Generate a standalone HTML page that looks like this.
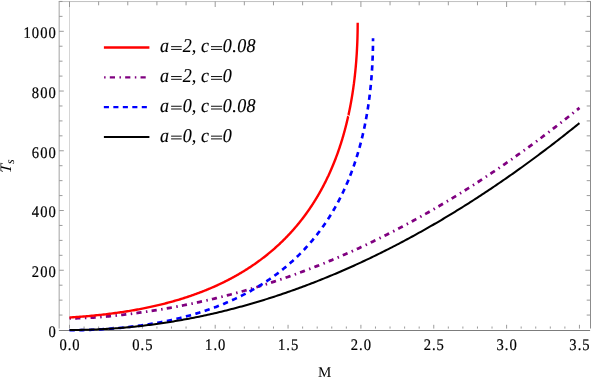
<!DOCTYPE html>
<html><head><meta charset="utf-8"><title>plot</title>
<style>
html,body{margin:0;padding:0;background:#fff;}
body{width:591px;height:379px;overflow:hidden;}
svg{display:block;will-change:transform;}
text{font-family:"Liberation Serif",serif;fill:#000;text-rendering:geometricPrecision;}
.tl{font-size:16.2px;letter-spacing:1.111px;stroke:#000;stroke-width:0.2px;}
.lg{font-size:19.6px;font-style:italic;stroke:#000;stroke-width:0.15px;}
</style></head><body>
<svg width="591" height="379" viewBox="0 0 591 379">
<rect width="591" height="379" fill="#fff"/>
<line x1="69.5" y1="1.55" x2="69.5" y2="328.6" stroke="#d0d0d0" stroke-width="0.9"/>
<line x1="59.2" y1="1.15" x2="59.2" y2="328.6" stroke="#b8b8b8" stroke-width="1.3"/>
<line x1="58.7" y1="1.55" x2="591.0" y2="1.55" stroke="#b0b0b0" stroke-width="0.8"/>
<line x1="590.6" y1="1.15" x2="590.6" y2="328.6" stroke="#8c8c8c" stroke-width="1.2"/>
<line x1="58.900000000000006" y1="330.45" x2="590.1" y2="330.45" stroke="#7c7c7c" stroke-width="1.15"/>
<line x1="69.50" y1="328.60" x2="69.50" y2="324.80" stroke="#8e8e8e" stroke-width="0.9"/>
<line x1="84.07" y1="328.60" x2="84.07" y2="326.50" stroke="#8e8e8e" stroke-width="0.9"/>
<line x1="98.64" y1="328.60" x2="98.64" y2="326.50" stroke="#8e8e8e" stroke-width="0.9"/>
<line x1="113.21" y1="328.60" x2="113.21" y2="326.50" stroke="#8e8e8e" stroke-width="0.9"/>
<line x1="127.78" y1="328.60" x2="127.78" y2="326.50" stroke="#8e8e8e" stroke-width="0.9"/>
<line x1="142.35" y1="328.60" x2="142.35" y2="324.80" stroke="#8e8e8e" stroke-width="0.9"/>
<line x1="156.92" y1="328.60" x2="156.92" y2="326.50" stroke="#8e8e8e" stroke-width="0.9"/>
<line x1="171.49" y1="328.60" x2="171.49" y2="326.50" stroke="#8e8e8e" stroke-width="0.9"/>
<line x1="186.06" y1="328.60" x2="186.06" y2="326.50" stroke="#8e8e8e" stroke-width="0.9"/>
<line x1="200.63" y1="328.60" x2="200.63" y2="326.50" stroke="#8e8e8e" stroke-width="0.9"/>
<line x1="215.20" y1="328.60" x2="215.20" y2="324.80" stroke="#8e8e8e" stroke-width="0.9"/>
<line x1="229.77" y1="328.60" x2="229.77" y2="326.50" stroke="#8e8e8e" stroke-width="0.9"/>
<line x1="244.34" y1="328.60" x2="244.34" y2="326.50" stroke="#8e8e8e" stroke-width="0.9"/>
<line x1="258.91" y1="328.60" x2="258.91" y2="326.50" stroke="#8e8e8e" stroke-width="0.9"/>
<line x1="273.48" y1="328.60" x2="273.48" y2="326.50" stroke="#8e8e8e" stroke-width="0.9"/>
<line x1="288.05" y1="328.60" x2="288.05" y2="324.80" stroke="#8e8e8e" stroke-width="0.9"/>
<line x1="302.62" y1="328.60" x2="302.62" y2="326.50" stroke="#8e8e8e" stroke-width="0.9"/>
<line x1="317.19" y1="328.60" x2="317.19" y2="326.50" stroke="#8e8e8e" stroke-width="0.9"/>
<line x1="331.76" y1="328.60" x2="331.76" y2="326.50" stroke="#8e8e8e" stroke-width="0.9"/>
<line x1="346.33" y1="328.60" x2="346.33" y2="326.50" stroke="#8e8e8e" stroke-width="0.9"/>
<line x1="360.90" y1="328.60" x2="360.90" y2="324.80" stroke="#8e8e8e" stroke-width="0.9"/>
<line x1="375.47" y1="328.60" x2="375.47" y2="326.50" stroke="#8e8e8e" stroke-width="0.9"/>
<line x1="390.04" y1="328.60" x2="390.04" y2="326.50" stroke="#8e8e8e" stroke-width="0.9"/>
<line x1="404.61" y1="328.60" x2="404.61" y2="326.50" stroke="#8e8e8e" stroke-width="0.9"/>
<line x1="419.18" y1="328.60" x2="419.18" y2="326.50" stroke="#8e8e8e" stroke-width="0.9"/>
<line x1="433.75" y1="328.60" x2="433.75" y2="324.80" stroke="#8e8e8e" stroke-width="0.9"/>
<line x1="448.32" y1="328.60" x2="448.32" y2="326.50" stroke="#8e8e8e" stroke-width="0.9"/>
<line x1="462.89" y1="328.60" x2="462.89" y2="326.50" stroke="#8e8e8e" stroke-width="0.9"/>
<line x1="477.46" y1="328.60" x2="477.46" y2="326.50" stroke="#8e8e8e" stroke-width="0.9"/>
<line x1="492.03" y1="328.60" x2="492.03" y2="326.50" stroke="#8e8e8e" stroke-width="0.9"/>
<line x1="506.60" y1="328.60" x2="506.60" y2="324.80" stroke="#8e8e8e" stroke-width="0.9"/>
<line x1="521.17" y1="328.60" x2="521.17" y2="326.50" stroke="#8e8e8e" stroke-width="0.9"/>
<line x1="535.74" y1="328.60" x2="535.74" y2="326.50" stroke="#8e8e8e" stroke-width="0.9"/>
<line x1="550.31" y1="328.60" x2="550.31" y2="326.50" stroke="#8e8e8e" stroke-width="0.9"/>
<line x1="564.88" y1="328.60" x2="564.88" y2="326.50" stroke="#8e8e8e" stroke-width="0.9"/>
<line x1="579.45" y1="328.60" x2="579.45" y2="324.80" stroke="#8e8e8e" stroke-width="0.9"/>
<line x1="69.50" y1="1.50" x2="69.50" y2="7.00" stroke="#8e8e8e" stroke-width="0.9"/>
<line x1="98.64" y1="1.50" x2="98.64" y2="5.30" stroke="#8e8e8e" stroke-width="0.9"/>
<line x1="127.78" y1="1.50" x2="127.78" y2="5.30" stroke="#8e8e8e" stroke-width="0.9"/>
<line x1="156.92" y1="1.50" x2="156.92" y2="5.30" stroke="#8e8e8e" stroke-width="0.9"/>
<line x1="186.06" y1="1.50" x2="186.06" y2="5.30" stroke="#8e8e8e" stroke-width="0.9"/>
<line x1="215.20" y1="1.50" x2="215.20" y2="7.00" stroke="#8e8e8e" stroke-width="0.9"/>
<line x1="244.34" y1="1.50" x2="244.34" y2="5.30" stroke="#8e8e8e" stroke-width="0.9"/>
<line x1="273.48" y1="1.50" x2="273.48" y2="5.30" stroke="#8e8e8e" stroke-width="0.9"/>
<line x1="302.62" y1="1.50" x2="302.62" y2="5.30" stroke="#8e8e8e" stroke-width="0.9"/>
<line x1="331.76" y1="1.50" x2="331.76" y2="5.30" stroke="#8e8e8e" stroke-width="0.9"/>
<line x1="360.90" y1="1.50" x2="360.90" y2="7.00" stroke="#8e8e8e" stroke-width="0.9"/>
<line x1="390.04" y1="1.50" x2="390.04" y2="5.30" stroke="#8e8e8e" stroke-width="0.9"/>
<line x1="419.18" y1="1.50" x2="419.18" y2="5.30" stroke="#8e8e8e" stroke-width="0.9"/>
<line x1="448.32" y1="1.50" x2="448.32" y2="5.30" stroke="#8e8e8e" stroke-width="0.9"/>
<line x1="477.46" y1="1.50" x2="477.46" y2="5.30" stroke="#8e8e8e" stroke-width="0.9"/>
<line x1="506.60" y1="1.50" x2="506.60" y2="7.00" stroke="#8e8e8e" stroke-width="0.9"/>
<line x1="535.74" y1="1.50" x2="535.74" y2="5.30" stroke="#8e8e8e" stroke-width="0.9"/>
<line x1="564.88" y1="1.50" x2="564.88" y2="5.30" stroke="#8e8e8e" stroke-width="0.9"/>
<line x1="59.20" y1="315.06" x2="62.50" y2="315.06" stroke="#8e8e8e" stroke-width="0.9"/>
<line x1="590.60" y1="315.06" x2="586.70" y2="315.06" stroke="#8e8e8e" stroke-width="0.9"/>
<line x1="59.20" y1="300.13" x2="62.50" y2="300.13" stroke="#8e8e8e" stroke-width="0.9"/>
<line x1="590.60" y1="300.13" x2="586.70" y2="300.13" stroke="#8e8e8e" stroke-width="0.9"/>
<line x1="59.20" y1="285.19" x2="62.50" y2="285.19" stroke="#8e8e8e" stroke-width="0.9"/>
<line x1="590.60" y1="285.19" x2="586.70" y2="285.19" stroke="#8e8e8e" stroke-width="0.9"/>
<line x1="59.20" y1="270.26" x2="63.80" y2="270.26" stroke="#8e8e8e" stroke-width="0.9"/>
<line x1="590.60" y1="270.26" x2="585.40" y2="270.26" stroke="#8e8e8e" stroke-width="0.9"/>
<line x1="59.20" y1="255.32" x2="62.50" y2="255.32" stroke="#8e8e8e" stroke-width="0.9"/>
<line x1="590.60" y1="255.32" x2="586.70" y2="255.32" stroke="#8e8e8e" stroke-width="0.9"/>
<line x1="59.20" y1="240.39" x2="62.50" y2="240.39" stroke="#8e8e8e" stroke-width="0.9"/>
<line x1="590.60" y1="240.39" x2="586.70" y2="240.39" stroke="#8e8e8e" stroke-width="0.9"/>
<line x1="59.20" y1="225.45" x2="62.50" y2="225.45" stroke="#8e8e8e" stroke-width="0.9"/>
<line x1="590.60" y1="225.45" x2="586.70" y2="225.45" stroke="#8e8e8e" stroke-width="0.9"/>
<line x1="59.20" y1="210.52" x2="63.80" y2="210.52" stroke="#8e8e8e" stroke-width="0.9"/>
<line x1="590.60" y1="210.52" x2="585.40" y2="210.52" stroke="#8e8e8e" stroke-width="0.9"/>
<line x1="59.20" y1="195.58" x2="62.50" y2="195.58" stroke="#8e8e8e" stroke-width="0.9"/>
<line x1="590.60" y1="195.58" x2="586.70" y2="195.58" stroke="#8e8e8e" stroke-width="0.9"/>
<line x1="59.20" y1="180.65" x2="62.50" y2="180.65" stroke="#8e8e8e" stroke-width="0.9"/>
<line x1="590.60" y1="180.65" x2="586.70" y2="180.65" stroke="#8e8e8e" stroke-width="0.9"/>
<line x1="59.20" y1="165.71" x2="62.50" y2="165.71" stroke="#8e8e8e" stroke-width="0.9"/>
<line x1="590.60" y1="165.71" x2="586.70" y2="165.71" stroke="#8e8e8e" stroke-width="0.9"/>
<line x1="59.20" y1="150.78" x2="63.80" y2="150.78" stroke="#8e8e8e" stroke-width="0.9"/>
<line x1="590.60" y1="150.78" x2="585.40" y2="150.78" stroke="#8e8e8e" stroke-width="0.9"/>
<line x1="59.20" y1="135.84" x2="62.50" y2="135.84" stroke="#8e8e8e" stroke-width="0.9"/>
<line x1="590.60" y1="135.84" x2="586.70" y2="135.84" stroke="#8e8e8e" stroke-width="0.9"/>
<line x1="59.20" y1="120.91" x2="62.50" y2="120.91" stroke="#8e8e8e" stroke-width="0.9"/>
<line x1="590.60" y1="120.91" x2="586.70" y2="120.91" stroke="#8e8e8e" stroke-width="0.9"/>
<line x1="59.20" y1="105.97" x2="62.50" y2="105.97" stroke="#8e8e8e" stroke-width="0.9"/>
<line x1="590.60" y1="105.97" x2="586.70" y2="105.97" stroke="#8e8e8e" stroke-width="0.9"/>
<line x1="59.20" y1="91.04" x2="63.80" y2="91.04" stroke="#8e8e8e" stroke-width="0.9"/>
<line x1="590.60" y1="91.04" x2="585.40" y2="91.04" stroke="#8e8e8e" stroke-width="0.9"/>
<line x1="59.20" y1="76.10" x2="62.50" y2="76.10" stroke="#8e8e8e" stroke-width="0.9"/>
<line x1="590.60" y1="76.10" x2="586.70" y2="76.10" stroke="#8e8e8e" stroke-width="0.9"/>
<line x1="59.20" y1="61.17" x2="62.50" y2="61.17" stroke="#8e8e8e" stroke-width="0.9"/>
<line x1="590.60" y1="61.17" x2="586.70" y2="61.17" stroke="#8e8e8e" stroke-width="0.9"/>
<line x1="59.20" y1="46.23" x2="62.50" y2="46.23" stroke="#8e8e8e" stroke-width="0.9"/>
<line x1="590.60" y1="46.23" x2="586.70" y2="46.23" stroke="#8e8e8e" stroke-width="0.9"/>
<line x1="59.20" y1="31.30" x2="63.80" y2="31.30" stroke="#8e8e8e" stroke-width="0.9"/>
<line x1="590.60" y1="31.30" x2="585.40" y2="31.30" stroke="#8e8e8e" stroke-width="0.9"/>
<line x1="59.20" y1="16.36" x2="62.50" y2="16.36" stroke="#8e8e8e" stroke-width="0.9"/>
<line x1="590.60" y1="16.36" x2="586.70" y2="16.36" stroke="#8e8e8e" stroke-width="0.9"/>
<line x1="59.20" y1="1.43" x2="62.50" y2="1.43" stroke="#8e8e8e" stroke-width="0.9"/>
<line x1="590.60" y1="1.43" x2="586.70" y2="1.43" stroke="#8e8e8e" stroke-width="0.9"/>
<g fill="none" stroke-linejoin="round">
<path d="M69.50,318.25 L71.21,318.27 L72.91,318.28 L74.62,318.28 L76.32,318.26 L78.03,318.23 L79.73,318.18 L81.44,318.13 L83.14,318.07 L84.85,318.00 L86.56,317.92 L88.26,317.83 L89.97,317.73 L91.67,317.63 L93.38,317.52 L95.08,317.40 L96.79,317.28 L98.49,317.15 L100.20,317.01 L101.90,316.87 L103.61,316.73 L105.32,316.58 L107.02,316.42 L108.73,316.26 L110.43,316.10 L112.14,315.93 L113.84,315.76 L115.55,315.58 L117.25,315.40 L118.96,315.21 L120.67,315.02 L122.37,314.83 L124.08,314.63 L125.78,314.43 L127.49,314.22 L129.19,314.01 L130.90,313.80 L132.60,313.58 L134.31,313.36 L136.02,313.13 L137.72,312.90 L139.43,312.67 L141.13,312.43 L142.84,312.19 L144.54,311.95 L146.25,311.70 L147.95,311.45 L149.66,311.19 L151.36,310.94 L153.07,310.67 L154.78,310.41 L156.48,310.13 L158.19,309.86 L159.89,309.58 L161.60,309.30 L163.30,309.01 L165.01,308.72 L166.71,308.43 L168.42,308.13 L170.13,307.83 L171.83,307.52 L173.54,307.21 L175.24,306.90 L176.95,306.58 L178.65,306.26 L180.36,305.94 L182.06,305.61 L183.77,305.27 L185.48,304.93 L187.18,304.59 L188.89,304.25 L190.59,303.90 L192.30,303.54 L194.00,303.19 L195.71,302.82 L197.41,302.46 L199.12,302.09 L200.82,301.71 L202.53,301.34 L204.24,300.95 L205.94,300.57 L207.65,300.18 L209.35,299.78 L211.06,299.38 L212.76,298.98 L214.47,298.57 L216.17,298.16 L217.88,297.74 L219.59,297.32 L221.29,296.90 L223.00,296.47 L224.70,296.04 L226.41,295.60 L228.11,295.16 L229.82,294.71 L231.52,294.26 L233.23,293.81 L234.94,293.35 L236.64,292.88 L238.35,292.42 L240.05,291.95 L241.76,291.47 L243.46,290.99 L245.17,290.50 L246.87,290.02 L248.58,289.52 L250.28,289.02 L251.99,288.52 L253.70,288.02 L255.40,287.50 L257.11,286.99 L258.81,286.47 L260.52,285.95 L262.22,285.42 L263.93,284.88 L265.63,284.35 L267.34,283.80 L269.05,283.26 L270.75,282.71 L272.46,282.15 L274.16,281.59 L275.87,281.03 L277.57,280.46 L279.28,279.89 L280.98,279.31 L282.69,278.73 L284.40,278.14 L286.10,277.55 L287.81,276.96 L289.51,276.36 L291.22,275.75 L292.92,275.14 L294.63,274.53 L296.33,273.91 L298.04,273.29 L299.74,272.67 L301.45,272.03 L303.16,271.40 L304.86,270.76 L306.57,270.11 L308.27,269.46 L309.98,268.81 L311.68,268.15 L313.39,267.49 L315.09,266.82 L316.80,266.15 L318.51,265.48 L320.21,264.79 L321.92,264.11 L323.62,263.42 L325.33,262.72 L327.03,262.03 L328.74,261.32 L330.44,260.61 L332.15,259.90 L333.86,259.18 L335.56,258.46 L337.27,257.74 L338.97,257.01 L340.68,256.27 L342.38,255.53 L344.09,254.79 L345.79,254.04 L347.50,253.28 L349.21,252.53 L350.91,251.76 L352.62,251.00 L354.32,250.22 L356.03,249.45 L357.73,248.67 L359.44,247.88 L361.14,247.09 L362.85,246.30 L364.55,245.50 L366.26,244.69 L367.97,243.89 L369.67,243.07 L371.38,242.26 L373.08,241.43 L374.79,240.61 L376.49,239.78 L378.20,238.94 L379.90,238.10 L381.61,237.25 L383.32,236.40 L385.02,235.55 L386.73,234.69 L388.43,233.83 L390.14,232.96 L391.84,232.09 L393.55,231.21 L395.25,230.33 L396.96,229.44 L398.67,228.55 L400.37,227.65 L402.08,226.75 L403.78,225.85 L405.49,224.94 L407.19,224.03 L408.90,223.11 L410.60,222.18 L412.31,221.26 L414.01,220.32 L415.72,219.39 L417.43,218.45 L419.13,217.50 L420.84,216.55 L422.54,215.59 L424.25,214.63 L425.95,213.67 L427.66,212.70 L429.36,211.73 L431.07,210.75 L432.78,209.76 L434.48,208.78 L436.19,207.78 L437.89,206.79 L439.60,205.79 L441.30,204.78 L443.01,203.77 L444.71,202.75 L446.42,201.73 L448.13,200.71 L449.83,199.68 L451.54,198.65 L453.24,197.61 L454.95,196.56 L456.65,195.52 L458.36,194.46 L460.06,193.41 L461.77,192.35 L463.47,191.28 L465.18,190.21 L466.89,189.13 L468.59,188.05 L470.30,186.97 L472.00,185.88 L473.71,184.79 L475.41,183.69 L477.12,182.58 L478.82,181.48 L480.53,180.36 L482.24,179.25 L483.94,178.13 L485.65,177.00 L487.35,175.87 L489.06,174.73 L490.76,173.59 L492.47,172.45 L494.17,171.30 L495.88,170.14 L497.59,168.99 L499.29,167.82 L501.00,166.65 L502.70,165.48 L504.41,164.31 L506.11,163.12 L507.82,161.94 L509.52,160.75 L511.23,159.55 L512.93,158.35 L514.64,157.15 L516.35,155.94 L518.05,154.72 L519.76,153.50 L521.46,152.28 L523.17,151.05 L524.87,149.82 L526.58,148.58 L528.28,147.34 L529.99,146.09 L531.70,144.84 L533.40,143.59 L535.11,142.33 L536.81,141.06 L538.52,139.79 L540.22,138.52 L541.93,137.24 L543.63,135.95 L545.34,134.67 L547.05,133.37 L548.75,132.08 L550.46,130.77 L552.16,129.47 L553.87,128.16 L555.57,126.84 L557.28,125.52 L558.98,124.19 L560.69,122.86 L562.39,121.53 L564.10,120.19 L565.81,118.85 L567.51,117.50 L569.22,116.15 L570.92,114.79 L572.63,113.43 L574.33,112.06 L576.04,110.69 L577.74,109.31 L579.45,107.93" stroke="#800080" stroke-width="2.75" stroke-dasharray="1.5 4.2 5.2 4.46"/>
<path d="M69.50,330.30 L71.02,330.29 L72.54,330.27 L74.05,330.25 L75.56,330.23 L77.06,330.21 L78.56,330.18 L80.06,330.14 L81.55,330.11 L83.04,330.07 L84.52,330.03 L86.01,329.98 L87.48,329.93 L88.96,329.88 L90.43,329.82 L91.89,329.76 L93.36,329.70 L94.81,329.64 L96.27,329.57 L97.72,329.49 L99.17,329.41 L100.61,329.33 L102.05,329.25 L103.49,329.16 L104.92,329.07 L106.35,328.98 L107.77,328.88 L109.19,328.78 L110.61,328.67 L112.02,328.56 L113.43,328.45 L114.83,328.34 L116.24,328.22 L117.63,328.09 L119.03,327.97 L120.42,327.84 L121.80,327.70 L123.19,327.57 L124.56,327.42 L125.94,327.28 L127.31,327.13 L128.68,326.98 L130.04,326.83 L131.40,326.67 L132.76,326.50 L134.11,326.34 L135.46,326.17 L136.80,326.00 L138.14,325.82 L139.48,325.64 L140.81,325.45 L142.14,325.27 L143.46,325.07 L144.78,324.88 L146.10,324.68 L147.42,324.48 L148.73,324.27 L150.03,324.06 L151.33,323.85 L152.63,323.63 L153.93,323.41 L155.22,323.19 L156.50,322.96 L157.79,322.73 L159.07,322.49 L160.34,322.25 L161.61,322.01 L162.88,321.77 L164.15,321.52 L165.41,321.26 L166.66,321.01 L167.92,320.75 L169.16,320.48 L170.41,320.21 L171.65,319.94 L172.89,319.67 L174.12,319.39 L175.35,319.11 L176.58,318.82 L177.80,318.53 L179.02,318.24 L180.23,317.94 L181.44,317.64 L182.65,317.33 L183.85,317.02 L185.05,316.71 L186.25,316.40 L187.44,316.08 L188.63,315.76 L189.81,315.43 L190.99,315.10 L192.17,314.76 L193.34,314.43 L194.51,314.09 L195.67,313.74 L196.84,313.39 L197.99,313.04 L199.15,312.68 L200.30,312.32 L201.44,311.96 L202.58,311.59 L203.72,311.22 L204.86,310.85 L205.99,310.47 L207.11,310.09 L208.24,309.70 L209.36,309.32 L210.47,308.92 L211.58,308.53 L212.69,308.13 L213.80,307.72 L214.90,307.32 L215.99,306.90 L217.08,306.49 L218.17,306.07 L219.26,305.65 L220.34,305.22 L221.42,304.79 L222.49,304.36 L223.56,303.92 L224.63,303.48 L225.69,303.04 L226.75,302.59 L227.80,302.14 L228.85,301.69 L229.90,301.23 L230.94,300.76 L231.98,300.30 L233.01,299.83 L234.05,299.35 L235.07,298.88 L236.10,298.40 L237.12,297.91 L238.13,297.42 L239.15,296.93 L240.16,296.44 L241.16,295.94 L242.16,295.43 L243.16,294.93 L244.15,294.42 L245.14,293.90 L246.13,293.38 L247.11,292.86 L248.09,292.34 L249.06,291.81 L250.03,291.28 L251.00,290.74 L251.96,290.20 L252.92,289.66 L253.88,289.11 L254.83,288.56 L255.77,288.00 L256.72,287.45 L257.66,286.88 L258.59,286.32 L259.53,285.75 L260.46,285.18 L261.38,284.60 L262.30,284.02 L263.22,283.44 L264.13,282.85 L265.04,282.26 L265.95,281.66 L266.85,281.06 L267.75,280.46 L268.64,279.85 L269.53,279.24 L270.42,278.63 L271.30,278.01 L272.18,277.39 L273.05,276.77 L273.93,276.14 L274.79,275.51 L275.66,274.87 L276.52,274.23 L277.37,273.59 L278.23,272.94 L279.07,272.29 L279.92,271.64 L280.76,270.98 L281.60,270.32 L282.43,269.66 L283.26,268.99 L284.08,268.32 L284.91,267.64 L285.72,266.96 L286.54,266.28 L287.35,265.59 L288.16,264.90 L288.96,264.20 L289.76,263.51 L290.55,262.80 L291.34,262.10 L292.13,261.39 L292.91,260.68 L293.69,259.96 L294.47,259.24 L295.24,258.52 L296.01,257.79 L296.78,257.06 L297.54,256.32 L298.29,255.58 L299.05,254.84 L299.80,254.09 L300.54,253.34 L301.28,252.59 L302.02,251.83 L302.75,251.07 L303.48,250.31 L304.21,249.54 L304.93,248.77 L305.65,247.99 L306.37,247.21 L307.08,246.43 L307.79,245.65 L308.49,244.85 L309.19,244.06 L309.89,243.26 L310.58,242.46 L311.27,241.66 L311.95,240.85 L312.63,240.04 L313.31,239.22 L313.98,238.40 L314.65,237.58 L315.32,236.75 L315.98,235.92 L316.64,235.08 L317.29,234.25 L317.94,233.40 L318.59,232.56 L319.23,231.71 L319.87,230.86 L320.50,230.00 L321.13,229.14 L321.76,228.28 L322.38,227.41 L323.00,226.54 L323.62,225.66 L324.23,224.78 L324.84,223.90 L325.44,223.02 L326.04,222.13 L326.64,221.23 L327.23,220.34 L327.82,219.43 L328.41,218.53 L328.99,217.62 L329.57,216.71 L330.14,215.80 L330.71,214.88 L331.28,213.95 L331.84,213.03 L332.40,212.10 L332.95,211.16 L333.51,210.22 L334.05,209.28 L334.60,208.34 L335.14,207.39 L335.67,206.44 L336.20,205.48 L336.73,204.52 L337.26,203.56 L337.78,202.59 L338.29,201.62 L338.81,200.65 L339.31,199.67 L339.82,198.69 L340.32,197.70 L340.82,196.71 L341.31,195.72 L341.80,194.72 L342.29,193.72 L342.77,192.72 L343.25,191.71 L343.72,190.70 L344.20,189.68 L344.66,188.67 L345.13,187.64 L345.59,186.62 L346.04,185.59 L346.49,184.55 L346.94,183.52 L347.39,182.48 L347.83,181.43 L348.26,180.38 L348.70,179.33 L349.12,178.28 L349.55,177.22 L349.97,176.15 L350.39,175.09 L350.80,174.02 L351.21,172.94 L351.62,171.87 L352.02,170.79 L352.42,169.70 L352.81,168.61 L353.20,167.52 L353.59,166.42 L353.98,165.32 L354.35,164.22 L354.73,163.11 L355.10,162.00 L355.47,160.89 L355.83,159.77 L356.19,158.65 L356.55,157.52 L356.90,156.39 L357.25,155.26 L357.60,154.12 L357.94,152.98 L358.28,151.84 L358.61,150.69 L358.94,149.54 L359.27,148.39 L359.59,147.23 L359.91,146.07 L360.22,144.90 L360.53,143.73 L360.84,142.56 L361.14,141.38 L361.44,140.20 L361.74,139.01 L362.03,137.83 L362.32,136.63 L362.60,135.44 L362.88,134.24 L363.16,133.04 L363.43,131.83 L363.70,130.62 L363.96,129.41 L364.23,128.19 L364.48,126.97 L364.74,125.74 L364.99,124.51 L365.23,123.28 L365.47,122.05 L365.71,120.81 L365.95,119.56 L366.18,118.32 L366.40,117.07 L366.63,115.81 L366.85,114.55 L367.06,113.29 L367.27,112.03 L367.48,110.76 L367.69,109.48 L367.89,108.21 L368.08,106.93 L368.28,105.64 L368.46,104.36 L368.65,103.06 L368.83,101.77 L369.01,100.47 L369.18,99.17 L369.35,97.86 L369.52,96.55 L369.68,95.24 L369.84,93.92 L369.99,92.60 L370.14,91.28 L370.29,89.95 L370.43,88.62 L370.57,87.28 L370.71,85.94 L370.84,84.60 L370.97,83.25 L371.09,81.90 L371.21,80.55 L371.33,79.19 L371.44,77.83 L371.55,76.47 L371.65,75.10 L371.75,73.72 L371.85,72.35 L371.94,70.97 L372.03,69.59 L372.12,68.20 L372.20,66.81 L372.28,65.41 L372.35,64.02 L372.42,62.61 L372.49,61.21 L372.55,59.80 L372.61,58.39 L372.67,56.97 L372.72,55.55 L372.77,54.13 L372.81,52.70 L372.85,51.27 L372.89,49.83 L372.92,48.39 L372.95,46.95 L372.97,45.51 L372.99,44.06 L373.01,42.60 L373.02,41.15 L373.03,39.68 L373.04,38.22" stroke="#0000ff" stroke-width="2.65" stroke-dasharray="5.289 4.506"/>
<path d="M69.50,317.51 L71.31,317.39 L73.11,317.27 L74.88,317.15 L76.63,317.03 L78.37,316.90 L80.08,316.77 L81.78,316.63 L83.46,316.50 L85.12,316.36 L86.76,316.22 L88.39,316.07 L90.00,315.93 L91.60,315.78 L93.18,315.63 L94.75,315.47 L96.30,315.31 L97.84,315.15 L99.36,314.99 L100.87,314.83 L102.37,314.66 L103.85,314.49 L105.33,314.32 L106.78,314.15 L108.23,313.97 L109.67,313.79 L111.09,313.61 L112.50,313.43 L113.90,313.24 L115.29,313.06 L116.67,312.87 L118.04,312.67 L119.39,312.48 L120.74,312.28 L122.08,312.08 L123.41,311.88 L124.72,311.68 L126.03,311.47 L127.33,311.27 L128.62,311.06 L129.90,310.85 L131.18,310.63 L132.44,310.42 L133.70,310.20 L134.94,309.98 L136.18,309.76 L137.41,309.53 L138.64,309.31 L139.85,309.08 L141.06,308.85 L142.26,308.61 L143.45,308.38 L144.64,308.14 L145.81,307.90 L146.98,307.66 L148.15,307.42 L149.30,307.18 L150.45,306.93 L151.60,306.68 L152.73,306.43 L153.86,306.18 L154.99,305.92 L156.10,305.67 L157.22,305.41 L158.32,305.15 L159.42,304.88 L160.51,304.62 L161.60,304.35 L162.68,304.09 L163.75,303.82 L164.82,303.54 L165.89,303.27 L166.95,302.99 L168.00,302.71 L169.05,302.43 L170.09,302.15 L171.12,301.87 L172.15,301.58 L173.18,301.30 L174.20,301.01 L175.22,300.71 L176.23,300.42 L177.23,300.13 L178.23,299.83 L179.23,299.53 L180.22,299.23 L181.21,298.93 L182.19,298.62 L183.16,298.31 L184.14,298.01 L185.10,297.70 L186.07,297.38 L187.03,297.07 L187.98,296.75 L188.93,296.44 L189.87,296.12 L190.82,295.79 L191.75,295.47 L192.68,295.15 L193.61,294.82 L194.54,294.49 L195.46,294.16 L196.37,293.83 L197.28,293.49 L198.19,293.15 L199.10,292.82 L199.99,292.48 L200.89,292.13 L201.78,291.79 L202.67,291.45 L203.55,291.10 L204.43,290.75 L205.31,290.40 L206.18,290.04 L207.05,289.69 L207.92,289.33 L208.78,288.97 L209.64,288.61 L210.49,288.25 L211.34,287.89 L212.19,287.52 L213.03,287.15 L213.87,286.78 L214.71,286.41 L215.54,286.04 L216.37,285.66 L217.20,285.29 L218.02,284.91 L218.84,284.53 L219.65,284.15 L220.47,283.76 L221.28,283.38 L222.08,282.99 L222.88,282.60 L223.68,282.21 L224.48,281.82 L225.27,281.42 L226.06,281.02 L226.85,280.63 L227.63,280.23 L228.41,279.82 L229.19,279.42 L229.96,279.01 L230.73,278.61 L231.50,278.20 L232.26,277.79 L233.03,277.37 L233.78,276.96 L234.54,276.54 L235.29,276.12 L236.04,275.70 L236.79,275.28 L237.53,274.86 L238.27,274.43 L239.01,274.00 L239.74,273.58 L240.48,273.14 L241.20,272.71 L241.93,272.28 L242.65,271.84 L243.37,271.40 L244.09,270.96 L244.80,270.52 L245.52,270.08 L246.22,269.63 L246.93,269.19 L247.63,268.74 L248.33,268.29 L249.03,267.83 L249.73,267.38 L250.42,266.92 L251.11,266.47 L251.79,266.01 L252.48,265.55 L253.16,265.08 L253.84,264.62 L254.51,264.15 L255.19,263.68 L255.86,263.21 L256.52,262.74 L257.19,262.27 L257.85,261.79 L258.51,261.31 L259.17,260.84 L259.82,260.36 L260.48,259.87 L261.12,259.39 L261.77,258.90 L262.42,258.41 L263.06,257.92 L263.70,257.43 L264.33,256.94 L264.97,256.44 L265.60,255.95 L266.23,255.45 L266.85,254.95 L267.48,254.45 L268.10,253.94 L268.72,253.44 L269.33,252.93 L269.95,252.42 L270.56,251.91 L271.17,251.40 L271.78,250.88 L272.38,250.37 L272.98,249.85 L273.58,249.33 L274.18,248.81 L274.77,248.28 L275.36,247.76 L275.95,247.23 L276.54,246.70 L277.12,246.17 L277.71,245.64 L278.29,245.11 L278.86,244.57 L279.44,244.03 L280.01,243.50 L280.58,242.95 L281.15,242.41 L281.71,241.87 L282.28,241.32 L282.84,240.77 L283.40,240.22 L283.95,239.67 L284.51,239.12 L285.06,238.56 L285.61,238.01 L286.15,237.45 L286.70,236.89 L287.24,236.33 L287.78,235.76 L288.32,235.20 L288.85,234.63 L289.39,234.06 L289.92,233.49 L290.44,232.92 L290.97,232.34 L291.49,231.77 L292.02,231.19 L292.53,230.61 L293.05,230.03 L293.57,229.44 L294.08,228.86 L294.59,228.27 L295.10,227.68 L295.60,227.09 L296.11,226.50 L296.61,225.91 L297.11,225.31 L297.60,224.72 L298.10,224.12 L298.59,223.52 L299.08,222.91 L299.57,222.31 L300.05,221.70 L300.54,221.10 L301.02,220.49 L301.50,219.87 L301.98,219.26 L302.45,218.65 L302.92,218.03 L303.39,217.41 L303.86,216.79 L304.33,216.17 L304.79,215.55 L305.25,214.92 L305.71,214.29 L306.17,213.67 L306.62,213.04 L307.08,212.40 L307.53,211.77 L307.98,211.13 L308.42,210.50 L308.87,209.86 L309.31,209.22 L309.75,208.57 L310.19,207.93 L310.62,207.28 L311.06,206.63 L311.49,205.98 L311.92,205.33 L312.35,204.68 L312.77,204.02 L313.19,203.37 L313.62,202.71 L314.03,202.05 L314.45,201.39 L314.87,200.72 L315.28,200.06 L315.69,199.39 L316.10,198.72 L316.50,198.05 L316.91,197.38 L317.31,196.70 L317.71,196.03 L318.11,195.35 L318.50,194.67 L318.90,193.99 L319.29,193.31 L319.68,192.62 L320.06,191.93 L320.45,191.25 L320.83,190.56 L321.21,189.86 L321.59,189.17 L321.97,188.48 L322.35,187.78 L322.72,187.08 L323.09,186.38 L323.46,185.68 L323.82,184.97 L324.19,184.27 L324.55,183.56 L324.91,182.85 L325.27,182.14 L325.63,181.43 L325.98,180.71 L326.33,180.00 L326.68,179.28 L327.03,178.56 L327.38,177.84 L327.72,177.11 L328.06,176.39 L328.41,175.66 L328.74,174.93 L329.08,174.20 L329.41,173.47 L329.75,172.74 L330.08,172.00 L330.40,171.27 L330.73,170.53 L331.05,169.79 L331.37,169.04 L331.69,168.30 L332.01,167.55 L332.33,166.81 L332.64,166.06 L332.95,165.31 L333.26,164.55 L333.57,163.80 L333.88,163.04 L334.18,162.28 L334.48,161.52 L334.78,160.76 L335.08,160.00 L335.38,159.23 L335.67,158.47 L335.96,157.70 L336.25,156.93 L336.54,156.16 L336.82,155.38 L337.11,154.61 L337.39,153.83 L337.67,153.05 L337.95,152.27 L338.22,151.49 L338.50,150.70 L338.77,149.92 L339.04,149.13 L339.31,148.34 L339.57,147.55 L339.84,146.76 L340.10,145.96 L340.36,145.17 L340.62,144.37 L340.87,143.57 L341.13,142.77 L341.38,141.96 L341.63,141.16 L341.88,140.35 L342.12,139.54 L342.37,138.73 L342.61,137.92 L342.85,137.11 L343.09,136.29 L343.32,135.47 L343.56,134.65 L343.79,133.83 L344.02,133.01 L344.25,132.19 L344.48,131.36 L344.70,130.53 L344.92,129.70 L345.14,128.87 L345.36,128.04 L345.58,127.20 L345.79,126.37 L346.01,125.53 L346.22,124.69 L346.43,123.85 L346.63,123.00 L346.84,122.16 L347.04,121.31 L347.24,120.46 L347.44,119.61 L347.64,118.76 L347.83,117.91 L348.03,117.05 L348.22,116.19 L348.41,115.33 L348.60,114.47 L348.78,113.61 L348.97,112.75 L349.15,111.88 L349.33,111.01 L349.50,110.14 L349.68,109.27 L349.85,108.40 L350.03,107.52 L350.20,106.65 L350.36,105.77 L350.53,104.89 L350.70,104.01 L350.86,103.12 L351.02,102.24 L351.18,101.35 L351.33,100.46 L351.49,99.57 L351.64,98.68 L351.79,97.79 L351.94,96.89 L352.09,95.99 L352.23,95.09 L352.38,94.19 L352.52,93.29 L352.66,92.39 L352.79,91.48 L352.93,90.57 L353.06,89.66 L353.20,88.75 L353.32,87.84 L353.45,86.92 L353.58,86.01 L353.70,85.09 L353.82,84.17 L353.95,83.25 L354.06,82.32 L354.18,81.40 L354.29,80.47 L354.41,79.54 L354.52,78.61 L354.63,77.68 L354.73,76.75 L354.84,75.81 L354.94,74.87 L355.04,73.93 L355.14,72.99 L355.24,72.05 L355.33,71.11 L355.43,70.16 L355.52,69.21 L355.61,68.26 L355.70,67.31 L355.78,66.36 L355.87,65.40 L355.95,64.45 L356.03,63.49 L356.11,62.53 L356.18,61.57 L356.26,60.60 L356.33,59.64 L356.40,58.67 L356.47,57.70 L356.54,56.73 L356.60,55.76 L356.67,54.79 L356.73,53.81 L356.79,52.83 L356.84,51.85 L356.90,50.87 L356.95,49.89 L357.00,48.91 L357.05,47.92 L357.10,46.93 L357.15,45.94 L357.19,44.95 L357.23,43.96 L357.28,42.96 L357.31,41.97 L357.35,40.97 L357.39,39.97 L357.42,38.97 L357.45,37.96 L357.48,36.96 L357.51,35.95 L357.53,34.94 L357.55,33.93 L357.58,32.92 L357.60,31.91 L357.61,30.89 L357.63,29.87 L357.64,28.85 L357.66,27.83 L357.67,26.81 L357.67,25.79 L357.68,24.76 L357.69,23.73 L357.69,22.70" stroke="#ff0000" stroke-width="2.4"/>
<path d="M69.50,330.00 L71.21,330.00 L72.91,329.99 L74.62,329.98 L76.32,329.96 L78.03,329.94 L79.73,329.92 L81.44,329.89 L83.14,329.85 L84.85,329.81 L86.56,329.77 L88.26,329.72 L89.97,329.67 L91.67,329.61 L93.38,329.55 L95.08,329.48 L96.79,329.41 L98.49,329.33 L100.20,329.25 L101.90,329.16 L103.61,329.07 L105.32,328.98 L107.02,328.88 L108.73,328.78 L110.43,328.67 L112.14,328.55 L113.84,328.44 L115.55,328.31 L117.25,328.19 L118.96,328.05 L120.67,327.92 L122.37,327.78 L124.08,327.63 L125.78,327.48 L127.49,327.32 L129.19,327.16 L130.90,327.00 L132.60,326.83 L134.31,326.66 L136.02,326.48 L137.72,326.30 L139.43,326.11 L141.13,325.92 L142.84,325.72 L144.54,325.52 L146.25,325.31 L147.95,325.10 L149.66,324.89 L151.36,324.67 L153.07,324.44 L154.78,324.21 L156.48,323.98 L158.19,323.74 L159.89,323.50 L161.60,323.25 L163.30,323.00 L165.01,322.74 L166.71,322.48 L168.42,322.21 L170.13,321.94 L171.83,321.67 L173.54,321.39 L175.24,321.10 L176.95,320.81 L178.65,320.52 L180.36,320.22 L182.06,319.92 L183.77,319.61 L185.48,319.30 L187.18,318.98 L188.89,318.66 L190.59,318.33 L192.30,318.00 L194.00,317.67 L195.71,317.33 L197.41,316.98 L199.12,316.63 L200.82,316.28 L202.53,315.92 L204.24,315.56 L205.94,315.19 L207.65,314.81 L209.35,314.44 L211.06,314.06 L212.76,313.67 L214.47,313.28 L216.17,312.88 L217.88,312.48 L219.59,312.08 L221.29,311.67 L223.00,311.25 L224.70,310.83 L226.41,310.41 L228.11,309.98 L229.82,309.55 L231.52,309.11 L233.23,308.67 L234.94,308.22 L236.64,307.77 L238.35,307.32 L240.05,306.86 L241.76,306.39 L243.46,305.92 L245.17,305.45 L246.87,304.97 L248.58,304.48 L250.28,303.99 L251.99,303.50 L253.70,303.00 L255.40,302.50 L257.11,301.99 L258.81,301.48 L260.52,300.97 L262.22,300.45 L263.93,299.92 L265.63,299.39 L267.34,298.86 L269.05,298.32 L270.75,297.77 L272.46,297.22 L274.16,296.67 L275.87,296.11 L277.57,295.55 L279.28,294.98 L280.98,294.41 L282.69,293.84 L284.40,293.26 L286.10,292.67 L287.81,292.08 L289.51,291.48 L291.22,290.89 L292.92,290.28 L294.63,289.67 L296.33,289.06 L298.04,288.44 L299.74,287.82 L301.45,287.19 L303.16,286.56 L304.86,285.92 L306.57,285.28 L308.27,284.64 L309.98,283.99 L311.68,283.33 L313.39,282.67 L315.09,282.01 L316.80,281.34 L318.51,280.66 L320.21,279.99 L321.92,279.30 L323.62,278.62 L325.33,277.92 L327.03,277.23 L328.74,276.53 L330.44,275.82 L332.15,275.11 L333.86,274.39 L335.56,273.68 L337.27,272.95 L338.97,272.22 L340.68,271.49 L342.38,270.75 L344.09,270.01 L345.79,269.26 L347.50,268.51 L349.21,267.75 L350.91,266.99 L352.62,266.22 L354.32,265.45 L356.03,264.68 L357.73,263.90 L359.44,263.11 L361.14,262.32 L362.85,261.53 L364.55,260.73 L366.26,259.93 L367.97,259.12 L369.67,258.31 L371.38,257.49 L373.08,256.67 L374.79,255.84 L376.49,255.01 L378.20,254.18 L379.90,253.34 L381.61,252.49 L383.32,251.64 L385.02,250.79 L386.73,249.93 L388.43,249.07 L390.14,248.20 L391.84,247.32 L393.55,246.45 L395.25,245.57 L396.96,244.68 L398.67,243.79 L400.37,242.89 L402.08,241.99 L403.78,241.09 L405.49,240.18 L407.19,239.26 L408.90,238.34 L410.60,237.42 L412.31,236.49 L414.01,235.56 L415.72,234.62 L417.43,233.68 L419.13,232.73 L420.84,231.78 L422.54,230.83 L424.25,229.87 L425.95,228.90 L427.66,227.93 L429.36,226.96 L431.07,225.98 L432.78,224.99 L434.48,224.01 L436.19,223.01 L437.89,222.02 L439.60,221.01 L441.30,220.01 L443.01,219.00 L444.71,217.98 L446.42,216.96 L448.13,215.93 L449.83,214.90 L451.54,213.87 L453.24,212.83 L454.95,211.79 L456.65,210.74 L458.36,209.68 L460.06,208.63 L461.77,207.56 L463.47,206.50 L465.18,205.43 L466.89,204.35 L468.59,203.27 L470.30,202.18 L472.00,201.09 L473.71,200.00 L475.41,198.90 L477.12,197.80 L478.82,196.69 L480.53,195.57 L482.24,194.46 L483.94,193.33 L485.65,192.21 L487.35,191.07 L489.06,189.94 L490.76,188.80 L492.47,187.65 L494.17,186.50 L495.88,185.35 L497.59,184.19 L499.29,183.02 L501.00,181.85 L502.70,180.68 L504.41,179.50 L506.11,178.32 L507.82,177.13 L509.52,175.94 L511.23,174.74 L512.93,173.54 L514.64,172.34 L516.35,171.13 L518.05,169.91 L519.76,168.69 L521.46,167.47 L523.17,166.24 L524.87,165.00 L526.58,163.77 L528.28,162.52 L529.99,161.28 L531.70,160.02 L533.40,158.77 L535.11,157.50 L536.81,156.24 L538.52,154.97 L540.22,153.69 L541.93,152.41 L543.63,151.13 L545.34,149.84 L547.05,148.55 L548.75,147.25 L550.46,145.94 L552.16,144.64 L553.87,143.32 L555.57,142.01 L557.28,140.69 L558.98,139.36 L560.69,138.03 L562.39,136.69 L564.10,135.35 L565.81,134.01 L567.51,132.66 L569.22,131.31 L570.92,129.95 L572.63,128.58 L574.33,127.22 L576.04,125.84 L577.74,124.47 L579.45,123.08" stroke="#000" stroke-width="2.05"/>
<line x1="346.9" y1="114.85" x2="350.2" y2="116.85" stroke="#fff" stroke-width="1.0"/>
</g>
<g transform="translate(69.50,350.10) scale(0.9,1)"><text x="0.56" y="0" text-anchor="middle" class="tl">0.0</text></g>
<g transform="translate(142.35,350.10) scale(0.9,1)"><text x="0.56" y="0" text-anchor="middle" class="tl">0.5</text></g>
<g transform="translate(215.20,350.10) scale(0.9,1)"><text x="0.56" y="0" text-anchor="middle" class="tl">1.0</text></g>
<g transform="translate(288.05,350.10) scale(0.9,1)"><text x="0.56" y="0" text-anchor="middle" class="tl">1.5</text></g>
<g transform="translate(360.90,350.10) scale(0.9,1)"><text x="0.56" y="0" text-anchor="middle" class="tl">2.0</text></g>
<g transform="translate(433.75,350.10) scale(0.9,1)"><text x="0.56" y="0" text-anchor="middle" class="tl">2.5</text></g>
<g transform="translate(506.60,350.10) scale(0.9,1)"><text x="0.56" y="0" text-anchor="middle" class="tl">3.0</text></g>
<g transform="translate(579.45,350.10) scale(0.9,1)"><text x="0.56" y="0" text-anchor="middle" class="tl">3.5</text></g>
<g transform="translate(55.70,336.80) scale(0.9,1)"><text x="1.11" y="0" text-anchor="end" class="tl">0</text></g>
<g transform="translate(55.70,277.06) scale(0.9,1)"><text x="1.11" y="0" text-anchor="end" class="tl">200</text></g>
<g transform="translate(55.70,217.32) scale(0.9,1)"><text x="1.11" y="0" text-anchor="end" class="tl">400</text></g>
<g transform="translate(55.70,157.58) scale(0.9,1)"><text x="1.11" y="0" text-anchor="end" class="tl">600</text></g>
<g transform="translate(55.70,97.84) scale(0.9,1)"><text x="1.11" y="0" text-anchor="end" class="tl">800</text></g>
<g transform="translate(55.70,38.10) scale(0.9,1)"><text x="1.11" y="0" text-anchor="end" class="tl">1000</text></g>
<line x1="103.9" y1="47.5" x2="149.4" y2="47.5" stroke="#ff0000" stroke-width="2.3"/>
<line x1="104.1" y1="77.4" x2="149.4" y2="77.4" stroke="#800080" stroke-width="2.3" stroke-dasharray="1.5 4.2 5.2 4.46"/>
<line x1="103.85" y1="107.1" x2="149.4" y2="107.1" stroke="#0000ff" stroke-width="2.3" stroke-dasharray="5.1 4.38"/>
<line x1="103.9" y1="137.0" x2="149.4" y2="137.0" stroke="#000" stroke-width="1.8"/>
<g transform="translate(160.00,52.10) scale(0.92,1)"><text x="0" y="0" class="lg" style="">a</text></g>
<g transform="translate(182.70,52.10) scale(0.92,1)"><text x="0" y="0" class="lg" style="word-spacing:0.4px">2, c</text></g>
<g transform="translate(222.80,52.10) scale(0.92,1)"><text x="0" y="0" class="lg" style="letter-spacing:0.45px">0.08</text></g>
<line x1="171.1" y1="46.65" x2="181.7" y2="46.65" stroke="#000" stroke-width="0.95"/>
<line x1="171.1" y1="49.40" x2="181.7" y2="49.40" stroke="#000" stroke-width="0.95"/>
<line x1="211.0" y1="46.65" x2="222.1" y2="46.65" stroke="#000" stroke-width="0.95"/>
<line x1="211.0" y1="49.40" x2="222.1" y2="49.40" stroke="#000" stroke-width="0.95"/>
<g transform="translate(160.00,82.00) scale(0.92,1)"><text x="0" y="0" class="lg" style="">a</text></g>
<g transform="translate(182.70,82.00) scale(0.92,1)"><text x="0" y="0" class="lg" style="word-spacing:0.4px">2, c</text></g>
<g transform="translate(222.80,82.00) scale(0.92,1)"><text x="0" y="0" class="lg" style="letter-spacing:0.45px">0</text></g>
<line x1="171.1" y1="76.55" x2="181.7" y2="76.55" stroke="#000" stroke-width="0.95"/>
<line x1="171.1" y1="79.30" x2="181.7" y2="79.30" stroke="#000" stroke-width="0.95"/>
<line x1="211.0" y1="76.55" x2="222.1" y2="76.55" stroke="#000" stroke-width="0.95"/>
<line x1="211.0" y1="79.30" x2="222.1" y2="79.30" stroke="#000" stroke-width="0.95"/>
<g transform="translate(160.00,111.70) scale(0.92,1)"><text x="0" y="0" class="lg" style="">a</text></g>
<g transform="translate(182.70,111.70) scale(0.92,1)"><text x="0" y="0" class="lg" style="word-spacing:0.4px">0, c</text></g>
<g transform="translate(222.80,111.70) scale(0.92,1)"><text x="0" y="0" class="lg" style="letter-spacing:0.45px">0.08</text></g>
<line x1="171.1" y1="106.25" x2="181.7" y2="106.25" stroke="#000" stroke-width="0.95"/>
<line x1="171.1" y1="109.00" x2="181.7" y2="109.00" stroke="#000" stroke-width="0.95"/>
<line x1="211.0" y1="106.25" x2="222.1" y2="106.25" stroke="#000" stroke-width="0.95"/>
<line x1="211.0" y1="109.00" x2="222.1" y2="109.00" stroke="#000" stroke-width="0.95"/>
<g transform="translate(160.00,141.60) scale(0.92,1)"><text x="0" y="0" class="lg" style="">a</text></g>
<g transform="translate(182.70,141.60) scale(0.92,1)"><text x="0" y="0" class="lg" style="word-spacing:0.4px">0, c</text></g>
<g transform="translate(222.80,141.60) scale(0.92,1)"><text x="0" y="0" class="lg" style="letter-spacing:0.45px">0</text></g>
<line x1="171.1" y1="136.15" x2="181.7" y2="136.15" stroke="#000" stroke-width="0.95"/>
<line x1="171.1" y1="138.90" x2="181.7" y2="138.90" stroke="#000" stroke-width="0.95"/>
<line x1="211.0" y1="136.15" x2="222.1" y2="136.15" stroke="#000" stroke-width="0.95"/>
<line x1="211.0" y1="138.90" x2="222.1" y2="138.90" stroke="#000" stroke-width="0.95"/>
<text x="324.7" y="377.4" text-anchor="middle" style="font-size:15px">M</text>
<g transform="translate(10.9,172.6) rotate(-90)"><text x="-0.6" y="0" transform="skewX(-4)" style="font-size:16px;font-style:italic">T</text><text x="8.5" y="2.9" style="font-size:12px;font-style:italic">s</text></g>
</svg>
</body></html>
